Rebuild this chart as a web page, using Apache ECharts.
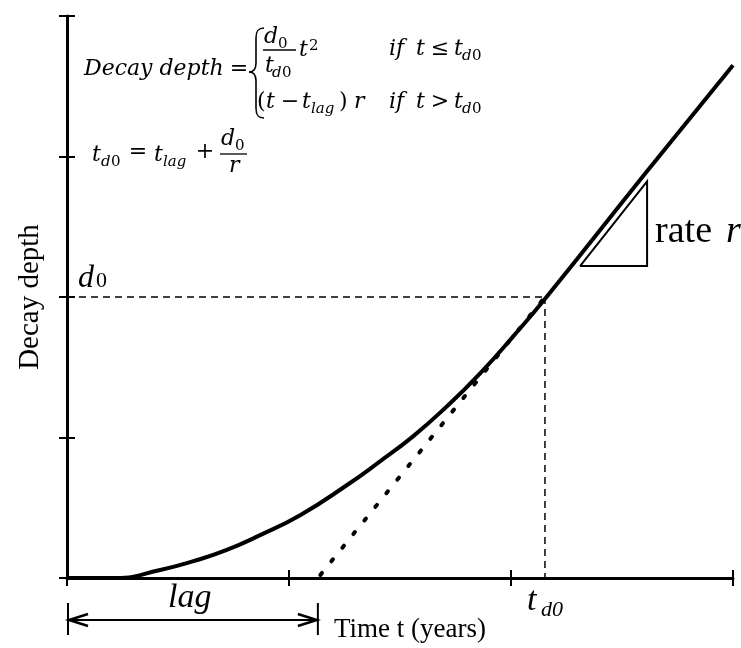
<!DOCTYPE html>
<html>
<head>
<meta charset="utf-8">
<script src="https://cdn.jsdelivr.net/npm/echarts@6/dist/echarts.min.js"></script>
<style>html,body{margin:0;padding:0;background:#fff}#c{width:741px;height:648px}</style>
</head>
<body>
<div id="c"></div>
<script>
// ---- data ----
const curveT = [0, 0.22, 0.42, 0.57, 0.72, 0.87, 1.05, 1.26, 1.41, 1.56, 1.71, 1.86, 2.01, 2.16, 2.61, 3.0];
const curveD = [0, 0, 0.057, 0.12, 0.20, 0.305, 0.447, 0.66, 0.83, 1.01, 1.22, 1.455, 1.72, 2.0, 2.89, 3.65];
const tLag = 1.13;
const tD0 = 2.153;
const d0 = 2.0;
const triT = [2.311, 2.613, 2.613, 2.311];
const triD = [2.22, 2.22, 2.823, 2.22];
const xRange = [0, 3];
const yRange = [0, 4];
const xName = 'Time t (years)';
const yName = 'Decay depth';

const chart = echarts.init(document.getElementById('c'), null, {renderer: 'canvas'});
const M = 'DejaVu Serif';
const S = 'Liberation Serif';
const axisLine = {show: true, lineStyle: {color: '#000', width: 3}};
function ax(type, extra) { return Object.assign({type: 'value', splitLine: {show: false}, axisLabel: {show: false}}, extra); }

const zip = (a, b) => a.map((v, i) => [v, b[i]]);

chart.setOption({
  animation: false,
  backgroundColor: '#fff',
  grid: {left: 67, right: 8, top: 16, bottom: 68},
  xAxis: [
    ax('x', {min: xRange[0], max: xRange[1], interval: 1, axisLine: axisLine,
      axisTick: {show: true, inside: false, length: 8, lineStyle: {color: '#000', width: 2}},
      name: xName, nameLocation: 'middle', nameGap: 38,
      nameTextStyle: {fontFamily: S, fontSize: 27, color: '#000', padding: [0, 0, 0, 20]}}),
    ax('x', {min: xRange[0], max: xRange[1], interval: 1, position: 'bottom', axisLine: {show: false},
      axisTick: {show: true, inside: true, length: 8, lineStyle: {color: '#000', width: 2}}})
  ],
  yAxis: [
    ax('y', {min: yRange[0], max: yRange[1], interval: 1, axisLine: axisLine,
      axisTick: {show: true, inside: false, length: 8, lineStyle: {color: '#000', width: 2}},
      name: yName, nameLocation: 'middle', nameGap: 22,
      nameTextStyle: {fontFamily: S, fontSize: 29, color: '#000'}}),
    ax('y', {min: yRange[0], max: yRange[1], interval: 1, position: 'left', axisLine: {show: false},
      axisTick: {show: true, inside: true, length: 8, lineStyle: {color: '#000', width: 2}}})
  ],
  series: [
    {type: 'line', data: [[0, d0], [tD0, d0]], showSymbol: false, silent: true, z: 1,
      lineStyle: {color: '#000', width: 1.5, type: [7, 5]}},
    {type: 'line', data: [[tD0, d0], [tD0, 0]], showSymbol: false, silent: true, z: 1,
      lineStyle: {color: '#000', width: 1.5, type: [7, 5]}},
    {type: 'line', data: [[tLag, 0], [tD0, d0]], showSymbol: false, silent: true, z: 2,
      lineStyle: {color: '#000', width: 4, type: [2.5, 15], cap: 'round', dashOffset: -4}},
    {type: 'line', data: zip(curveT, curveD), showSymbol: false, silent: true, z: 3,
      smooth: 0.5,
      lineStyle: {color: '#000', width: 4}},
    {type: 'line', data: zip(triT, triD), showSymbol: false, silent: true, z: 3,
      lineStyle: {color: '#000', width: 2, join: 'miter'}}
  ]
});

// ---- annotations ----
function P(text, x, base, size, italic, align, family) {
  return {type: 'text', x: x, y: base - 0.34 * size, silent: true, z: 10,
    style: {text: text, fontFamily: family || M, fontSize: size, fontStyle: italic ? 'italic' : 'normal',
      fill: '#000', align: align || 'left', textAlign: align || 'left', verticalAlign: 'middle', textVerticalAlign: 'middle'}};
}
function L(x1, y1, x2, y2, w) {
  return {type: 'line', silent: true, z: 10, shape: {x1: x1, y1: y1, x2: x2, y2: y2}, style: {stroke: '#000', lineWidth: w || 1.5}};
}
function B(x1, y1, cx1, cy1, cx2, cy2, x2, y2, w) {
  return {type: 'bezierCurve', silent: true, z: 10,
    shape: {x1: x1, y1: y1, cpx1: cx1, cpy1: cy1, cpx2: cx2, cpy2: cy2, x2: x2, y2: y2},
    style: {stroke: '#000', fill: null, lineWidth: w || 1.6}};
}
function PL(points, w) {
  return {type: 'polyline', silent: true, z: 10, shape: {points: points}, style: {stroke: '#000', fill: null, lineWidth: w || 2}};
}

const F = 22, s = 15;
const g = [];
// equation 1
g.push(P('Decay depth', 84, 77, F, 1));
g.push(P('=', 239, 77, F, 0, 'center'));
g.push(B(264, 28, 258, 28, 256, 31, 256, 38), L(256, 38, 256, 63, 1.6),
       B(256, 63, 256, 69, 253, 72, 249, 72), B(249, 72, 253, 72, 256, 75, 256, 81),
       L(256, 81, 256, 108, 1.6), B(256, 108, 256, 115, 258, 118, 264, 118));
g.push(P('d', 264, 45, F, 1), P('0', 278, 49, s, 0));
g.push(L(263, 50, 296, 50, 1.3));
g.push(P('t', 265, 74, F, 1), P('d', 272, 78, s, 1), P('0', 282, 78, s, 0));
g.push(P('t', 299, 58, F, 1), P('2', 309, 51, s, 0));
g.push(P('(', 257, 110, F, 0), P('t', 266, 110, F, 1), P('\u2212', 290, 110, F, 0, 'center'),
       P('t', 302, 110, F, 1), P('lag', 311, 114, s, 1), P(')', 339, 110, F, 0), P('r', 354, 110, F, 1));
g.push(P('if', 389, 57, F, 1), P('t', 416, 57, F, 1), P('\u2264', 440, 57, F, 0, 'center'),
       P('t', 454, 57, F, 1), P('d', 462, 61, s, 1), P('0', 472, 61, s, 0));
g.push(P('if', 389, 110, F, 1), P('t', 416, 110, F, 1), P('>', 440, 110, F, 0, 'center'),
       P('t', 454, 110, F, 1), P('d', 462, 114, s, 1), P('0', 472, 114, s, 0));
// equation 2
g.push(P('t', 92, 163, F, 1), P('d', 101, 167, s, 1), P('0', 111, 167, s, 0),
       P('=', 138, 160, F, 0, 'center'), P('t', 154, 163, F, 1), P('lag', 163, 167, s, 1),
       P('+', 205, 160, F, 0, 'center'), P('d', 221, 147, F, 1), P('0', 235, 151, s, 0),
       P('r', 229, 174, F, 1));
g.push(L(220, 154, 247, 154, 1.3));

// positions from scales
const pD0 = chart.convertToPixel({gridIndex: 0}, [0, d0]);
const pTD0 = chart.convertToPixel({gridIndex: 0}, [tD0, 0]);
const p0 = chart.convertToPixel({gridIndex: 0}, [0, 0]);
const pLag = chart.convertToPixel({gridIndex: 0}, [tLag, 0]);
const triTop = chart.convertToPixel({gridIndex: 0}, [triT[2], triD[2]]);
const triBot = chart.convertToPixel({gridIndex: 0}, [triT[1], triD[1]]);

g.push(P('d', pD0[0] + 11, pD0[1] - 8, 32, 1, 'left', S), P('0', pD0[0] + 29, pD0[1] - 8, 22, 0, 'left', S));
g.push(P('t', pTD0[0] - 18, pTD0[1] + 35, 34, 1, 'left', S), P('d0', pTD0[0] - 4, pTD0[1] + 40, 22, 1, 'left', S));
const rateBase = (triTop[1] + triBot[1]) / 2 + 21;
g.push(P('rate', triBot[0] + 8, rateBase, 38, 0, 'left', S),
       P('r', triBot[0] + 79, rateBase, 38, 1, 'left', S));
// lag arrow
const ay = p0[1] + 42, ax0 = p0[0] + 1, ax1 = pLag[0];
g.push(P('lag', (ax0 + ax1) / 2 - 25, p0[1] + 32, 34, 1, 'left', S));
g.push(L(ax0, ay - 17, ax0, ay + 15, 2), L(ax1, ay - 17, ax1, ay + 15, 2), L(ax0, ay, ax1, ay, 2));
g.push(PL([[ax0 + 20, ay - 6], [ax0 + 1, ay], [ax0 + 20, ay + 6]], 2.5));
g.push(PL([[ax1 - 20, ay - 6], [ax1 - 1, ay], [ax1 - 20, ay + 6]], 2.5));

chart.setOption({graphic: g});
</script>
</body>
</html>
